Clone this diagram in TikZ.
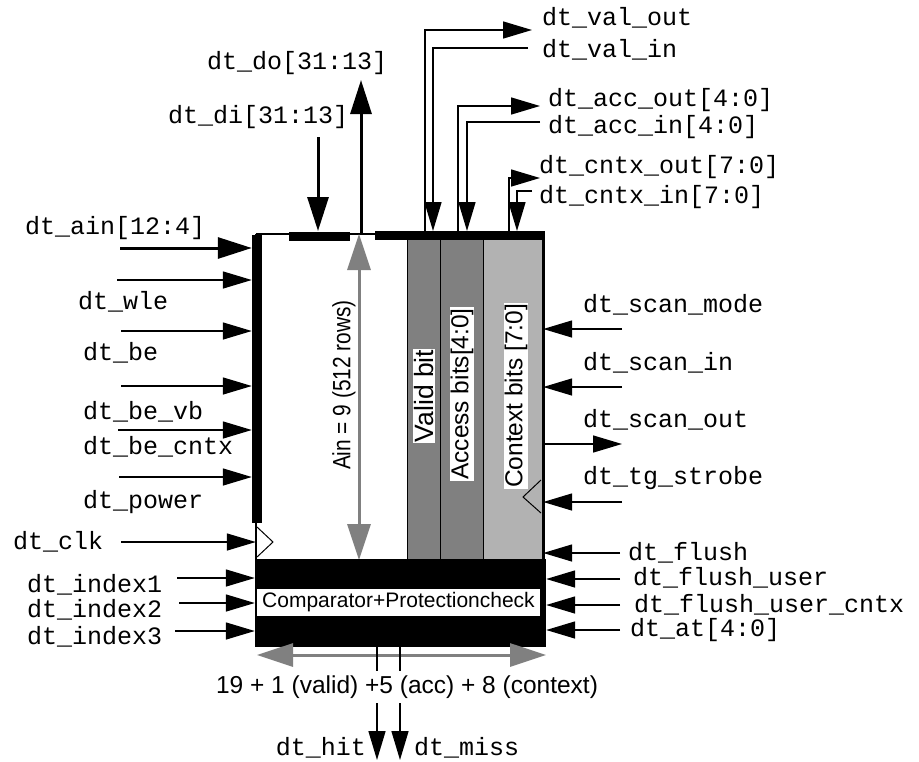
\documentclass[tikz,border=0pt]{standalone}
\usepackage{fontspec}
\setmainfont{Liberation Sans}
\setmonofont{Liberation Mono}
\usetikzlibrary{arrows.meta,positioning,calc}
\definecolor{colgray}{gray}{0.5}
\definecolor{ctxgray}{gray}{0.7}
\newcommand{\sigfont}{\ttfamily\fontsize{25}{30}\selectfont}
\newcommand{\blkfont}{\fontsize{21}{25}\selectfont}
\newcommand{\colfont}{\fontsize{24.5}{28}\selectfont}
\tikzset{
  sig/.style={line width=1.5pt,-{Triangle[length=29pt,width=17pt]}},
  bus/.style={line width=3pt,-{Triangle[length=34pt,width=21pt]}},
  dim/.style={colgray,line width=3pt,{Triangle[length=36pt,width=23pt]}-{Triangle[length=36pt,width=23pt]}},
  lbl/.style={font=\sigfont,inner sep=0pt},
  collbl/.style={font=\colfont,rotate=90,fill=white,inner sep=1pt},
}

\begin{document}
\begin{tikzpicture}[x=1pt,y=1pt]
  \useasboundingbox (0,0) rectangle (919,-761);

  % --- Tag array ---
  \node[minimum width=287pt,minimum height=326pt,inner sep=0pt] (array) at (399.5,-397) {};
  \draw[line width=1pt,fill=colgray] (407,-236) rectangle (440,-560);
  \draw[line width=1pt,fill=colgray] (440,-236) rectangle (483,-560);
  \draw[line width=1pt,fill=ctxgray] (483,-236) rectangle (543,-560);
  \draw[line width=1.5pt] (array.north west) -- (array.north east);
  \draw[line width=1.5pt] (array.north west) -- (array.south west);
  \draw[line width=3pt] (array.north east) -- (array.south east);
  \draw[line width=9pt] (289,-236) -- (350,-236);
  \draw[line width=9pt] (375,-235) -- (545,-235);
  \node[fill,minimum width=10pt,minimum height=288pt,inner sep=0pt] (lbar) at (257,-378.5) {};
  % clock and strobe marks
  \draw[line width=1pt] (257,-527) -- (273,-542) -- (257,-557);
  \draw[line width=1pt] (541,-480) -- (523,-497) -- (541,-513);

  % column labels
  \node[font=\fontsize{25}{30}\selectfont,rotate=90,inner sep=0pt] (ain) at (344,-385) {\scalebox{0.835}[1]{Ain = 9 (512 rows)}};
  \node[collbl,font=\fontsize{26.5}{30}\selectfont] (valid) at (424,-396) {Valid bit};
  \node[collbl] (access) at (462,-394) {Access bits[4:0]};
  \node[collbl] (context) at (516,-396) {Context bits [7:0]};
  \coordinate (rowtop) at (359,-234);
  \coordinate (rowbot) at (359,-560);
  \draw[dim] (rowtop) -- (rowbot);

  % --- Comparator ---
  \node[fill=black,minimum width=291pt,minimum height=88pt,inner sep=0pt] (cmp) at (400.5,-603) {};
  \node[fill=white,font=\blkfont,minimum width=283pt,minimum height=27pt,inner sep=0pt] (cmptext) at (398.5,-602.5) {Comparator+Protectioncheck};
  \coordinate (wl) at (257,-655);
  \coordinate (wr) at (546,-655);
  \draw[dim] (wl) -- (wr);

  % --- Top signals ---
  \node[lbl,anchor=west] (ldo) at (207,-63) {dt\_do[31:13]};
  \node[lbl,anchor=west] (ldi) at (168,-117) {dt\_di[31:13]};
  \coordinate (do) at (361,-80);
  \coordinate (di) at (318,-137);
  \draw[bus] (361,-234) -- (do);
  \draw[bus] (di) -- (318,-231);

  \node[lbl,anchor=west] (lvalout) at (542,-18) {dt\_val\_out};
  \node[lbl,anchor=west] (lvalin) at (542,-50) {dt\_val\_in};
  \node[lbl,anchor=west] (laccout) at (548,-100) {dt\_acc\_out[4:0]};
  \node[lbl,anchor=west] (laccin) at (548,-127) {dt\_acc\_in[4:0]};
  \node[lbl,anchor=west] (lcntxout) at (539,-167) {dt\_cntx\_out[7:0]};
  \node[lbl,anchor=west] (lcntxin) at (539,-197) {dt\_cntx\_in[7:0]};
  \coordinate (valout) at (532,-30);
  \coordinate (valin) at (528,-48);
  \coordinate (accout) at (540,-106);
  \coordinate (accin) at (540,-122);
  \coordinate (cntxout) at (540,-178);
  \coordinate (cntxin) at (532,-191);
  \draw[sig] (425,-232) |- (valout);
  \draw[sig] (valin) -| (433,-231);
  \draw[sig] (458,-232) |- (accout);
  \draw[sig] (accin) -| (467,-231);
  \draw[sig] (509,-232) |- (cntxout);
  \draw[sig] (cntxin) -| (517,-231);

  % --- Left signals ---
  \node[lbl,anchor=west] (lain) at (25,-228) {dt\_ain[12:4]};
  \node[lbl,anchor=west] (lwle) at (78,-302) {dt\_wle};
  \node[lbl,anchor=west] (lbe) at (83,-353) {dt\_be};
  \node[lbl,anchor=west] (lbevb) at (83,-412) {dt\_be\_vb};
  \node[lbl,anchor=west] (lbecntx) at (83,-447) {dt\_be\_cntx};
  \node[lbl,anchor=west] (lpower) at (83,-502) {dt\_power};
  \node[lbl,anchor=west] (lclk) at (13,-542) {dt\_clk};
  \coordinate (ain) at (120,-248);
  \coordinate (wle) at (117,-280);
  \coordinate (be) at (121,-331);
  \coordinate (bevb) at (121,-386);
  \coordinate (becntx) at (118,-430);
  \coordinate (power) at (119,-477);
  \coordinate (clk) at (121,-542);
  \draw[bus] (ain) -- (ain -| lbar.west);
  \draw[sig] (wle) -- (wle -| lbar.west);
  \draw[sig] (be) -- (be -| lbar.west);
  \draw[sig] (bevb) -- (bevb -| lbar.west);
  \draw[sig] (becntx) -- (becntx -| lbar.west);
  \draw[sig] (power) -- (power -| lbar.west);
  \draw[sig] (clk) -- (clk -| array.west);

  \node[lbl,anchor=west] (lidx1) at (27,-585) {dt\_index1};
  \node[lbl,anchor=west] (lidx2) at (27,-610) {dt\_index2};
  \node[lbl,anchor=west] (lidx3) at (27,-637) {dt\_index3};
  \coordinate (idx1) at (177,-578);
  \coordinate (idx2) at (179,-603);
  \coordinate (idx3) at (175,-631);
  \draw[sig] (idx1) -- (idx1 -| cmp.west);
  \draw[sig] (idx2) -- (idx2 -| cmp.west);
  \draw[sig] (idx3) -- (idx3 -| cmp.west);

  % --- Right signals ---
  \node[lbl,anchor=west] (lscanmode) at (583,-305) {dt\_scan\_mode};
  \node[lbl,anchor=west] (lscanin) at (583,-363) {dt\_scan\_in};
  \node[lbl,anchor=west] (lscanout) at (583,-420) {dt\_scan\_out};
  \node[lbl,anchor=west] (lstrobe) at (583,-478) {dt\_tg\_strobe};
  \coordinate (scanmode) at (622,-329);
  \coordinate (scanin) at (622,-387);
  \coordinate (scanout) at (622,-444);
  \coordinate (strobe) at (622,-502);
  \draw[sig] (scanmode) -- (scanmode -| array.east);
  \draw[sig] (scanin) -- (scanin -| array.east);
  \draw[sig] (scanout -| array.east) -- (scanout);
  \draw[sig] (strobe) -- (strobe -| array.east);

  \node[lbl,anchor=west] (lflush) at (628,-553) {dt\_flush};
  \node[lbl,anchor=west] (lflushuser) at (633,-578) {dt\_flush\_user};
  \node[lbl,anchor=west] (lflushcntx) at (634,-605) {dt\_flush\_user\_cntx};
  \node[lbl,anchor=west] (lat) at (630,-630) {dt\_at[4:0]};
  \coordinate (flush) at (620,-553);
  \coordinate (flushuser) at (620,-579);
  \coordinate (flushcntx) at (620,-605);
  \coordinate (at) at (620,-630);
  \draw[sig] (flush) -- (flush -| array.east);
  \draw[sig] (flushuser) -- (flushuser -| cmp.east);
  \draw[sig] (flushcntx) -- (flushcntx -| cmp.east);
  \draw[sig] (at) -- (at -| cmp.east);

  % --- Bottom outputs ---
  \coordinate (hit) at (377,-760);
  \coordinate (miss) at (400,-760);
  \draw[sig] (cmp.south -| hit) -- (hit);
  \draw[sig] (cmp.south -| miss) -- (miss);
  \node[fill=white,font=\colfont,inner xsep=2pt,inner ysep=5pt] (width) at (407,-687) {19 + 1 (valid) +5 (acc) + 8 (context)};
  \node[lbl,anchor=east] (lhit) at (366,-748) {dt\_hit};
  \node[lbl,anchor=west] (lmiss) at (414,-748) {dt\_miss};
\end{tikzpicture}
\end{document}
